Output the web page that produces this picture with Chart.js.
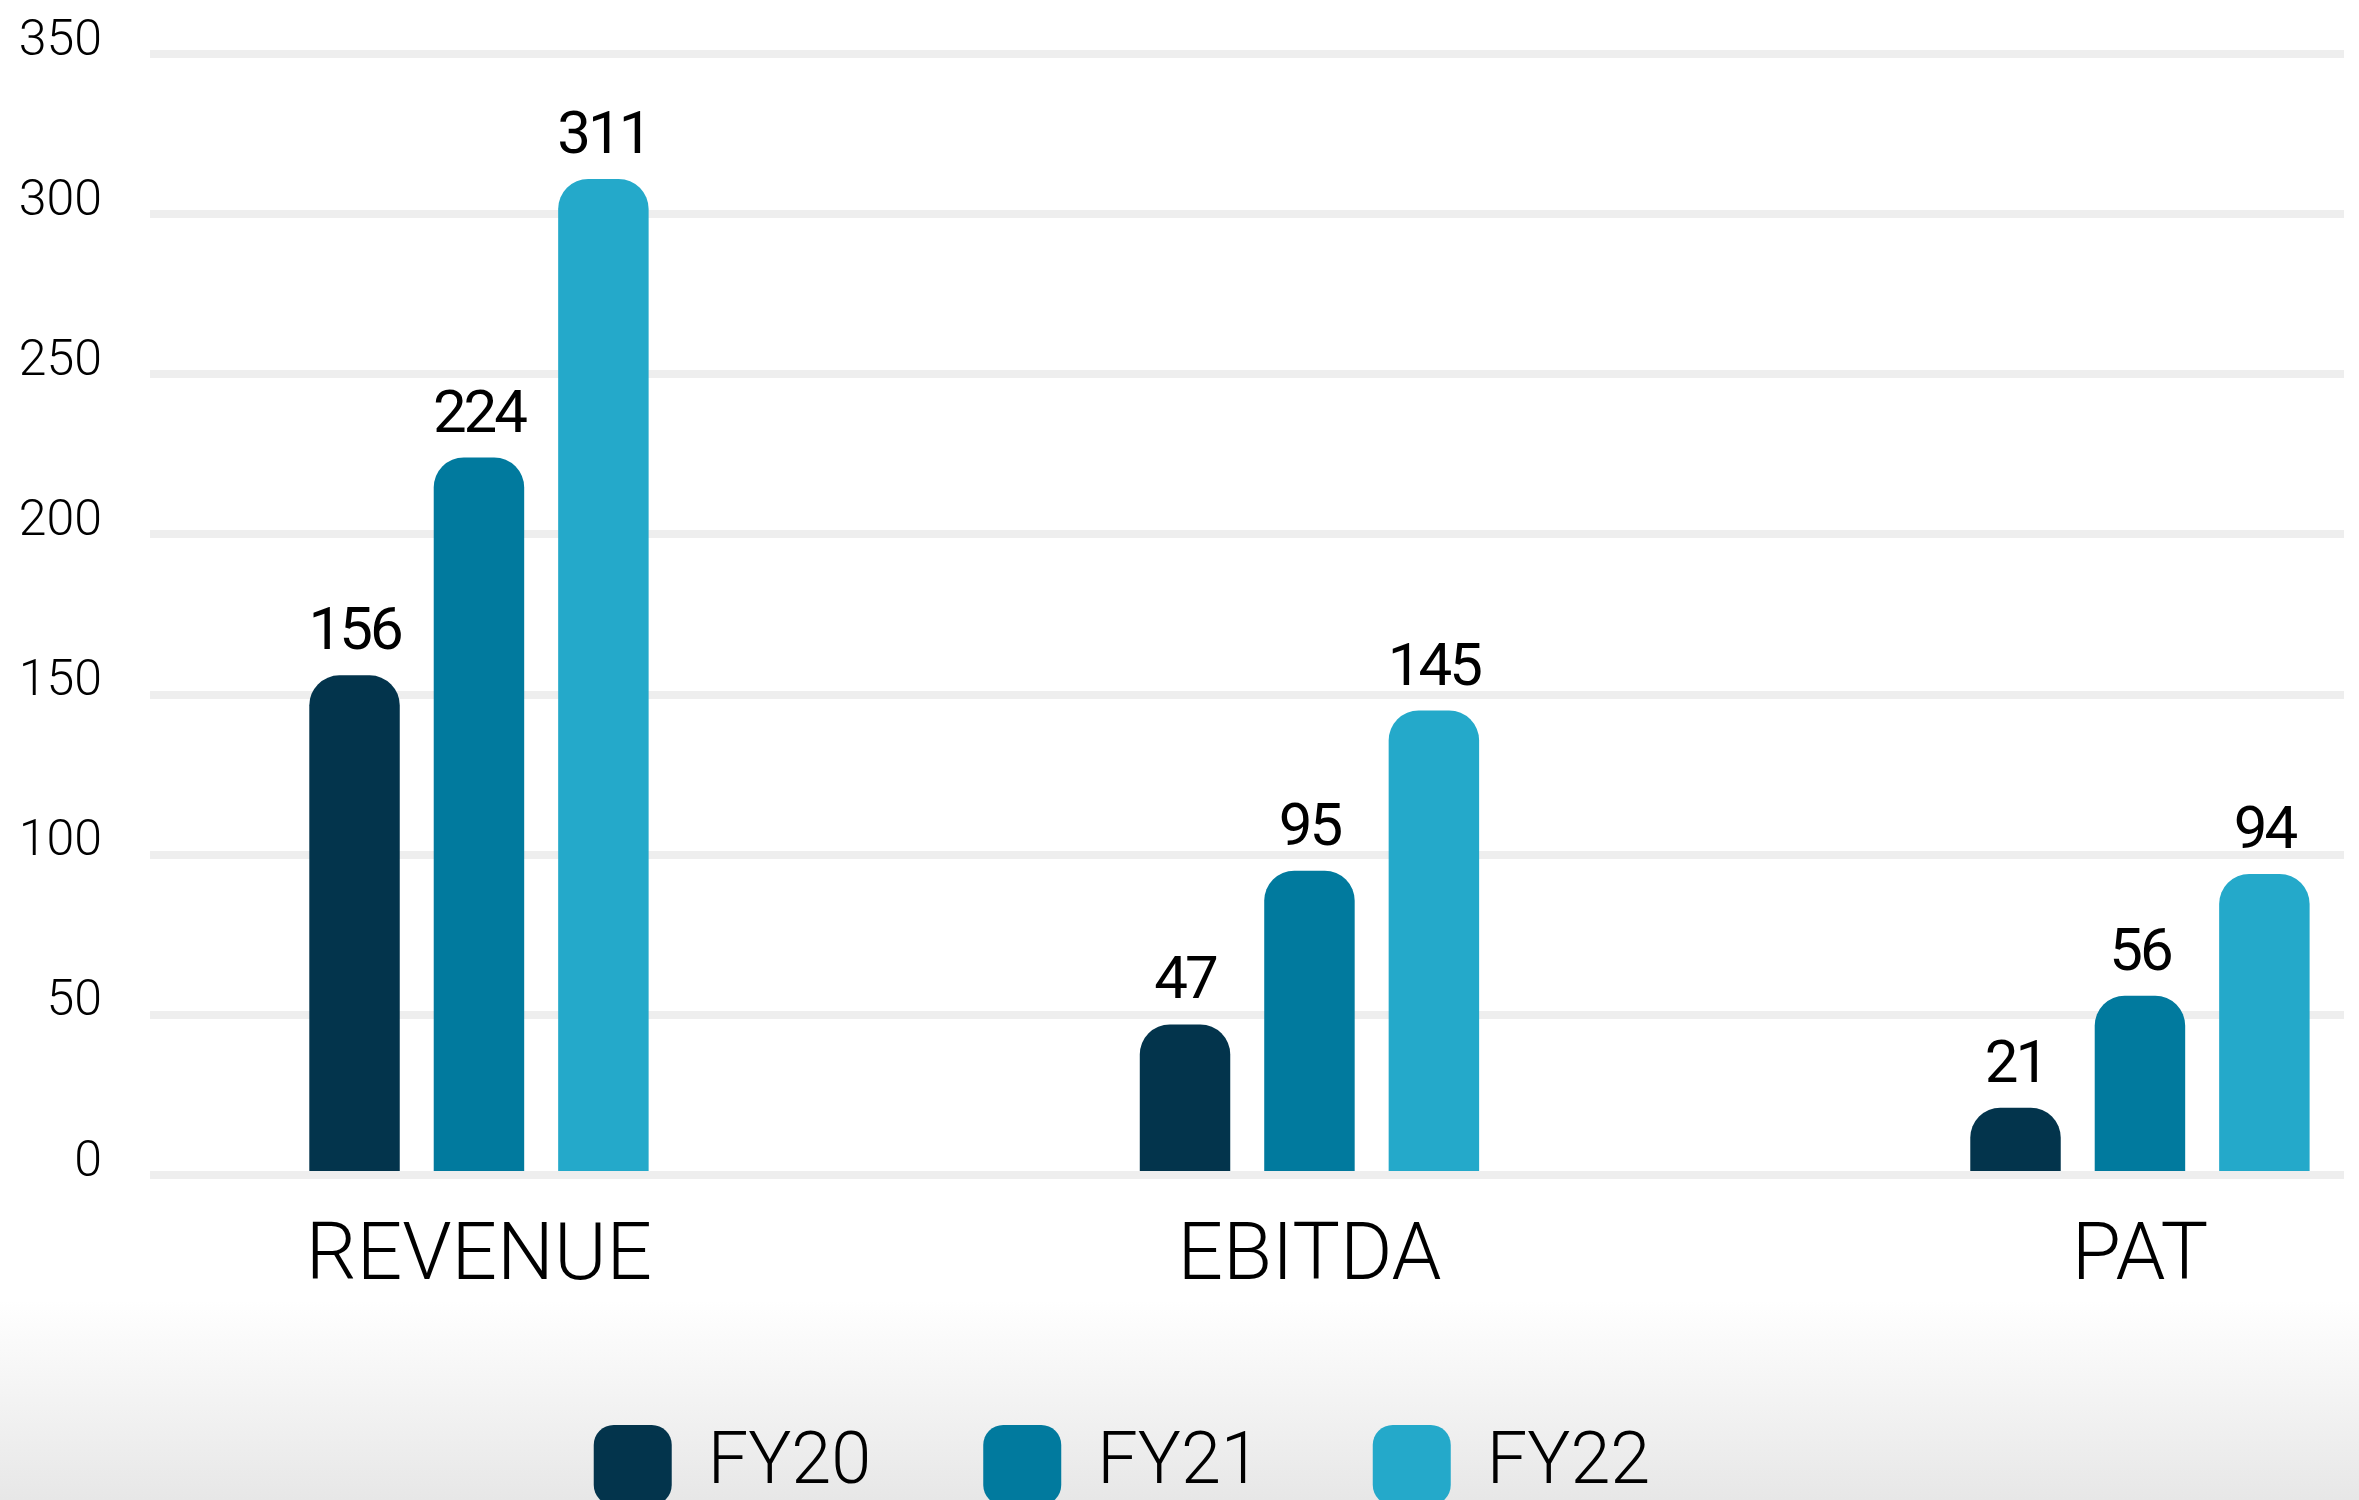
<!DOCTYPE html>
<html>
<head>
<meta charset="utf-8">
<script src="https://cdn.jsdelivr.net/npm/chart.js@4/dist/chart.umd.min.js"></script>
<style>
  html, body { margin: 0; padding: 0; }
  body { width: 2359px; height: 1500px; overflow: hidden;
         background: linear-gradient(to bottom, #ffffff 0px, #ffffff 1300px, #e7e7e7 1500px); }
  #wrap { position: relative; width: 2359px; height: 1500px; }
</style>
</head>
<body>
<div id="wrap"><canvas id="c"></canvas></div>
<script>
// ---- data ----
const categories = ['REVENUE', 'EBITDA', 'PAT'];
const seriesNames = ['FY20', 'FY21', 'FY22'];
const fy20 = [156, 47, 21];
const fy21 = [224, 95, 56];
const fy22 = [311, 145, 94];
const seriesColors = ['#03344c', '#017a9e', '#24a9ca'];
const yMin = 0, yMax = 350, yStep = 50;

const seriesValues = [fy20, fy21, fy22];
const toPoints = arr => arr.map((v, i) => ({ x: i, y: v }));

const datasets = seriesNames.map((name, k) => ({
  label: name,
  data: toPoints(seriesValues[k]),
  backgroundColor: seriesColors[k],
  borderWidth: 0,
  borderRadius: { topLeft: 30, topRight: 30, bottomLeft: 0, bottomRight: 0 },
  borderSkipped: 'bottom',
  categoryPercentage: 0.4495,
  barPercentage: 0.727
}));

const valueLabels = {
  id: 'valueLabels',
  afterDatasetsDraw(chart) {
    const ctx = chart.ctx;
    ctx.save();
    ctx.font = '400 60px Roboto';
    ctx.fillStyle = '#000';
    ctx.textAlign = 'center';
    ctx.textBaseline = 'alphabetic';
    try { ctx.letterSpacing = '-3px'; } catch (e) {}
    chart.data.datasets.forEach((ds, k) => {
      const meta = chart.getDatasetMeta(k);
      if (!chart.isDatasetVisible(k)) return;
      meta.data.forEach((bar, i) => {
        ctx.fillText(String(seriesValues[k][i]), bar.x, bar.y - 26);
      });
    });
    ctx.restore();
  }
};

new Chart(document.getElementById('c'), {
  type: 'bar',
  data: { datasets },
  plugins: [valueLabels],
  options: {
    responsive: true,
    maintainAspectRatio: false,
    animation: false,
    layout: { padding: { left: -100, right: 15, top: 54, bottom: -15 } },
    scales: {
      x: {
        type: 'linear',
        offset: false,
        min: -0.3961,
        max: 2.2457,
        grid: { display: false, offset: false },
        border: { display: false },
        ticks: {
          stepSize: 1,
          includeBounds: false,
          autoSkip: false,
          maxRotation: 0,
          padding: 28,
          color: '#000',
          font: { family: 'Roboto', size: 80, weight: 300 },
          callback: v => (categories[v] !== undefined ? categories[v] : '')
        },
        afterFit: s => { s.height = 138; }
      },
      y: {
        min: yMin,
        max: yMax,
        grid: { color: '#eeeeee', lineWidth: 8, drawTicks: true, tickLength: 28, tickColor: 'rgba(0,0,0,0)' },
        border: { display: false },
        ticks: {
          stepSize: yStep,
          padding: 20,
          labelOffset: -12,
          color: '#000',
          font: { family: 'Roboto', size: 50, weight: 300 }
        },
        afterFit: s => { s.width = 250; }
      }
    },
    plugins: {
      legend: {
        position: 'bottom',
        labels: {
          boxWidth: 78,
          boxHeight: 80,
          padding: 112,
          useBorderRadius: true,
          borderRadius: 20,
          color: '#000',
          font: { family: 'Roboto', size: 72, weight: 300 }
        }
      },
      tooltip: { enabled: false }
    }
  }
});
</script>
</body>
</html>
